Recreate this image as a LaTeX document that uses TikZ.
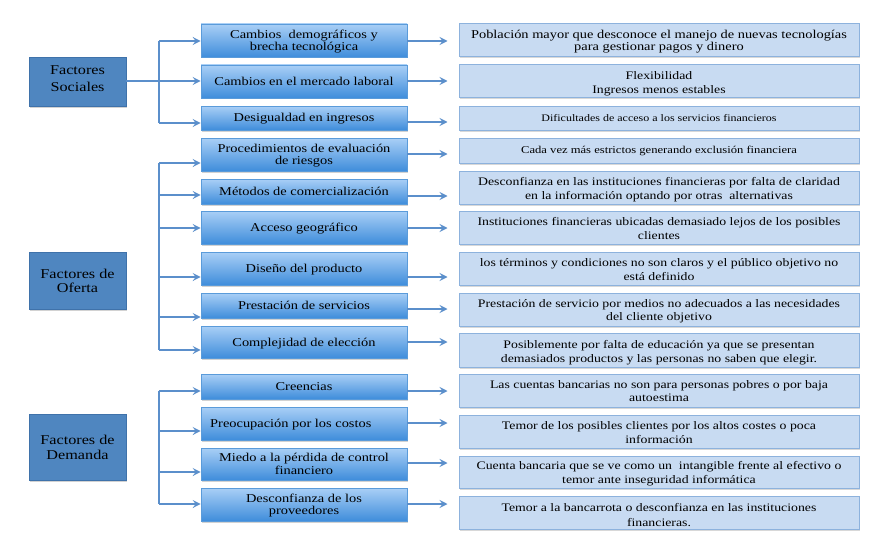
\documentclass[tikz,border=0pt]{standalone}
\usepackage{fontspec}
\setmainfont{Liberation Serif}
\usetikzlibrary{arrows.meta,shadows}
\definecolor{arrc}{HTML}{5B8FCB}
\definecolor{leftfill}{HTML}{4F86C0}
\definecolor{leftdraw}{HTML}{3F72AA}
\definecolor{midtop}{HTML}{A9CFF6}
\definecolor{midbot}{HTML}{3F8DDB}
\definecolor{middraw}{HTML}{5A9BDA}
\definecolor{rightfill}{HTML}{C8DBF2}
\definecolor{rightdraw}{HTML}{8DB2DD}
\newcommand\tx[2][-1.5pt]{\raisebox{#1}[\height][\depth]{\scalebox{1.2}[1]{\begin{tabular}{@{}c@{}}#2\end{tabular}}}}
\tikzset{
  leftbox/.style={draw=leftdraw,fill=leftfill,line width=0.8pt,minimum width=97pt,inner sep=0pt,align=center,
    font=\fontsize{13.5}{14.5}\selectfont,drop shadow={opacity=0.35,shadow xshift=1pt,shadow yshift=-1.5pt}},
  midbox/.style={draw=middraw,top color=midtop,bottom color=midbot,line width=0.6pt,minimum width=206pt,inner sep=0pt,align=center,
    font=\fontsize{12}{12.5}\selectfont,drop shadow={opacity=0.35,shadow xshift=1pt,shadow yshift=-1.5pt}},
  rightbox/.style={draw=rightdraw,fill=rightfill,line width=1pt,minimum width=400pt,inner sep=0pt,align=center,
    font=\fontsize{11.5}{13.5}\selectfont,drop shadow={opacity=0.3,shadow xshift=1pt,shadow yshift=-1.5pt}},
  arr/.style={draw=arrc,line width=1.8pt,-{Stealth[length=8pt,width=8pt,inset=3pt]}},
  branchline/.style={draw=arrc,line width=1.8pt}
}
\begin{document}
\begin{tikzpicture}[x=1pt,y=-1pt]
\useasboundingbox[fill=white] (0,0) rectangle (884,543);
% left boxes
\node[leftbox,minimum height=49pt,font=\fontsize{13.5}{17}\selectfont] (ls) at (77.5,81.5) {\tx[2pt]{Factores\\Sociales}};
\node[leftbox,minimum height=57pt] (lo) at (77.5,280.5) {\tx[-2pt]{Factores de\\Oferta}};
\node[leftbox,minimum height=66pt] (ld) at (77.5,447) {\tx[-2pt]{Factores de\\Demanda}};
% middle boxes
\node[midbox,minimum height=33pt] (m1) at (304,40.5) {\tx{Cambios\ \ demográficos y\\brecha tecnológica}};
\node[midbox,minimum height=33pt] (m2) at (304,81.5) {\tx{Cambios en el mercado laboral}};
\node[midbox,minimum height=24pt] (m3) at (304,118) {\tx{Desigualdad en ingresos}};
\node[midbox,minimum height=33pt] (m4) at (304,154.5) {\tx{Procedimientos de evaluación\\de riesgos}};
\node[midbox,minimum height=25pt] (m5) at (304,191.5) {\tx{Métodos de comercialización}};
\node[midbox,minimum height=33pt] (m6) at (304,227.5) {\tx{Acceso geográfico}};
\node[midbox,minimum height=33pt] (m7) at (304,268.5) {\tx{Diseño del producto}};
\node[midbox,minimum height=25pt] (m8) at (304,305.5) {\tx{Prestación de servicios}};
\node[midbox,minimum height=32pt] (m9) at (304,342) {\tx{Complejidad de elección}};
\node[midbox,minimum height=25pt] (m10) at (304,386.5) {\tx{Creencias}};
\node[midbox,minimum height=33pt] (m11) at (304,423.5) {\tx{Preocupación por los costos\hspace*{22pt}}};
\node[midbox,minimum height=32pt] (m12) at (304,464) {\tx{Miedo a la pérdida de control\\financiero}};
\node[midbox,minimum height=33pt] (m13) at (304,504.5) {\tx{Desconfianza de los\\proveedores}};
% right boxes
\node[rightbox,minimum height=33pt,font=\fontsize{12}{12.5}\selectfont] (r1) at (659,40.5) {\tx{Población mayor que desconoce el manejo de nuevas tecnologías\\para gestionar pagos y dinero}};
\node[rightbox,minimum height=33pt] (r2) at (659,81.5) {\tx[-2.5pt]{Flexibilidad\\Ingresos menos estables}};
\node[rightbox,minimum height=24pt,font=\fontsize{10}{12}\selectfont] (r3) at (659,118) {\tx[-1pt]{Dificultades de acceso a los servicios financieros}};
\node[rightbox,minimum height=25pt,font=\fontsize{10.5}{12}\selectfont] (r4) at (659,150.5) {\tx[-1pt]{Cada vez más estrictos generando exclusión financiera}};
\node[rightbox,minimum height=33pt] (r5) at (659,187.5) {\tx[-2.5pt]{Desconfianza en las instituciones financieras por falta de claridad\\en la información optando por otras\ \ alternativas}};
\node[rightbox,minimum height=33pt] (r6) at (659,227.5) {\tx[-2.5pt]{Instituciones financieras ubicadas demasiado lejos de los posibles\\clientes}};
\node[rightbox,minimum height=33pt] (r7) at (659,268.5) {\tx[-2.5pt]{los términos y condiciones no son claros y el público objetivo no\\está definido}};
\node[rightbox,minimum height=33pt] (r8) at (659,309.5) {\tx[-2pt]{Prestación de servicio por medios no adecuados a las necesidades\\del cliente objetivo}};
\node[rightbox,minimum height=34pt,font=\fontsize{11.5}{14.5}\selectfont] (r9) at (659,350) {\tx[-2.5pt]{Posiblemente por falta de educación ya que se presentan\\demasiados productos y las personas no saben que elegir.}};
\node[rightbox,minimum height=33pt] (r10) at (659,390.5) {\tx[-2pt]{Las cuentas bancarias no son para personas pobres o por baja\\autoestima}};
\node[rightbox,minimum height=33pt] (r11) at (659,431.5) {\tx[-2.5pt]{Temor de los posibles clientes por los altos costes o poca\\información}};
\node[rightbox,minimum height=32pt] (r12) at (659,472) {\tx[-2pt]{Cuenta bancaria que se ve como un\ \ intangible frente al efectivo o\\temor ante inseguridad informática}};
\node[rightbox,minimum height=33pt,font=\fontsize{11.5}{14.5}\selectfont] (r13) at (659,512.5) {\tx[-3.5pt]{Temor a la bancarrota o desconfianza en las instituciones\\financieras.}};
% branch coordinates
\coordinate (bx) at (159,0);
% Sociales
\draw[branchline] (bx |- 0,41) -- (bx |- 0,123);
\draw[branchline] (bx |- 0,81) -- (ls.east |- 0,81);
\foreach \m/\y in {m1/41,m2/81,m3/123}{\draw[arr] (bx |- 0,\y) -- (\m.west |- 0,\y);}
% Oferta
\draw[branchline] (bx |- 0,163) -- (bx |- 0,350);
\foreach \m/\y in {m4/163,m5/195,m6/228,m7/277,m8/317,m9/350}{\draw[arr] (bx |- 0,\y) -- (\m.west |- 0,\y);}
% Demanda
\draw[branchline] (bx |- 0,391) -- (bx |- 0,504);
\foreach \m/\y in {m10/391,m11/431,m12/472,m13/504}{\draw[arr] (bx |- 0,\y) -- (\m.west |- 0,\y);}
% mid -> right
\foreach \i/\y in {1/41,2/81,3/122,4/154,5/196,6/228,7/277,8/309,9/342,10/391,11/423,12/463,13/504}{
  \draw[arr] (m\i.east |- 0,\y) -- ([xshift=-11pt]r\i.west |- 0,\y);}
\end{tikzpicture}
\end{document}
